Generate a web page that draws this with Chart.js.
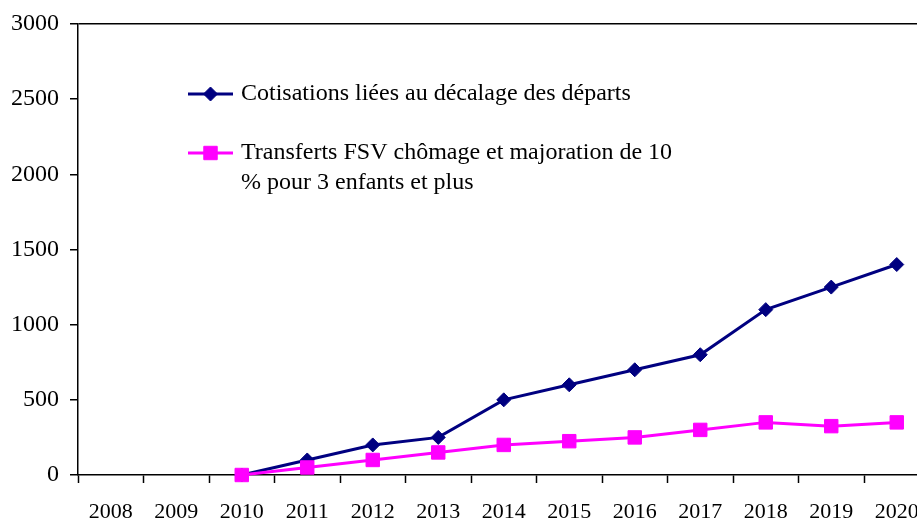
<!DOCTYPE html>
<html>
<head>
<meta charset="utf-8">
<script src="https://cdn.jsdelivr.net/npm/chart.js@4.4.0/dist/chart.umd.min.js"></script>
<style>
  html, body { margin: 0; padding: 0; background: #fff; overflow: hidden; }
  body { width: 917px; height: 520px; }
  #c { display: block; }
</style>
</head>
<body>
<canvas id="c" width="940" height="520"></canvas>
<script>
const years = ["2008","2009","2010","2011","2012","2013","2014","2015","2016","2017","2018","2019","2020"];
const cotisations = [null, null, 0, 100, 200, 250, 500, 600, 700, 800, 1100, 1250, 1400];
const transferts = [null, null, 0, 50, 100, 150, 200, 225, 250, 300, 350, 325, 350];
const yTicks = [0, 500, 1000, 1500, 2000, 2500, 3000];
const legendLines = [
  ["Cotisations liées au décalage des départs"],
  ["Transferts FSV chômage et majoration de 10", "% pour 3 enfants et plus"]
];

const FONT = "'Liberation Serif', 'Times New Roman', serif";

const legendPlugin = {
  id: 'customLegend',
  afterDatasetsDraw(chart, args, opts) {
    const ctx = chart.ctx;
    ctx.save();
    ctx.font = opts.fontSize + 'px ' + FONT;
    ctx.textBaseline = 'middle';
    ctx.textAlign = 'left';
    chart.data.datasets.forEach((ds, i) => {
      const y = opts.rows[i];
      ctx.strokeStyle = ds.borderColor;
      ctx.lineWidth = ds.borderWidth;
      ctx.beginPath();
      ctx.moveTo(opts.x1, y);
      ctx.lineTo(opts.x2, y);
      ctx.stroke();
      ctx.fillStyle = ds.pointBackgroundColor;
      ctx.strokeStyle = ds.pointBorderColor;
      ctx.lineWidth = 1;
      ctx.beginPath();
      const r = ds.pointRadius;
      const cx = (opts.x1 + opts.x2) / 2;
      if (ds.pointStyle === 'rectRot') {
        ctx.moveTo(cx, y - r); ctx.lineTo(cx + r, y); ctx.lineTo(cx, y + r); ctx.lineTo(cx - r, y); ctx.closePath();
      } else {
        const s = r * Math.SQRT1_2;
        ctx.rect(cx - s, y - s, 2 * s, 2 * s);
      }
      ctx.fill(); ctx.stroke();
      ctx.fillStyle = '#000';
      (ds.legendText || []).forEach((line, j) => {
        ctx.fillText(line, opts.textX, y + j * opts.lineHeight);
      });
    });
    ctx.restore();
  }
};

new Chart(document.getElementById('c'), {
  type: 'line',
  data: {
    labels: years,
    datasets: [
      {
        label: legendLines[0].join(' '),
        legendText: legendLines[0],
        data: cotisations,
        borderColor: '#000080',
        backgroundColor: '#000080',
        pointBackgroundColor: '#000080',
        pointBorderColor: '#000080',
        borderWidth: 3,
        pointStyle: 'rectRot',
        pointRadius: 7,
        pointBorderWidth: 1,
        tension: 0,
        clip: false,
        order: 2
      },
      {
        label: legendLines[1].join(' '),
        legendText: legendLines[1],
        data: transferts,
        borderColor: '#FF00FF',
        backgroundColor: '#FF00FF',
        pointBackgroundColor: '#FF00FF',
        pointBorderColor: '#FF00FF',
        borderWidth: 3,
        pointStyle: 'rect',
        pointRadius: 9.5,
        pointBorderWidth: 1,
        tension: 0,
        clip: false,
        order: 1
      }
    ]
  },
  options: {
    responsive: false,
    animation: false,
    layout: { padding: { top: 24, left: 0, right: 0, bottom: 0 } },
    plugins: {
      legend: { display: false },
      tooltip: { enabled: false },
      customLegend: { x1: 188, x2: 233, textX: 241, rows: [94, 153], lineHeight: 30, fontSize: 24 }
    },
    scales: {
      x: {
        type: 'category',
        offset: true,
        afterFit(scale) { scale.height = 45; },
        border: { display: true, color: '#000', width: 1.5 },
        grid: { display: true, offset: true, drawOnChartArea: false, drawTicks: true, tickLength: 8, tickColor: '#000', tickWidth: 1.5 },
        ticks: { color: '#000', font: { family: FONT, size: 22 }, padding: 16, maxRotation: 0, autoSkip: false }
      },
      y: {
        min: 0,
        max: 3000,
        afterFit(scale) { scale.width = 78; scale.paddingTop = 0; scale.paddingBottom = 0; },
        afterBuildTicks(scale) { scale.ticks = yTicks.map(v => ({ value: v })); },
        border: { display: true, color: '#000', width: 1.5 },
        grid: {
          display: true,
          drawOnChartArea: true,
          color: (c) => (c.tick && c.tick.value === 3000) ? '#000' : 'rgba(0,0,0,0)',
          lineWidth: 1.5,
          tickLength: 8,
          tickColor: '#000',
          tickWidth: 1.5
        },
        ticks: { color: '#000', font: { family: FONT, size: 24 }, padding: 11, callback: (v) => String(v) }
      }
    }
  },
  plugins: [legendPlugin]
});
</script>
</body>
</html>
